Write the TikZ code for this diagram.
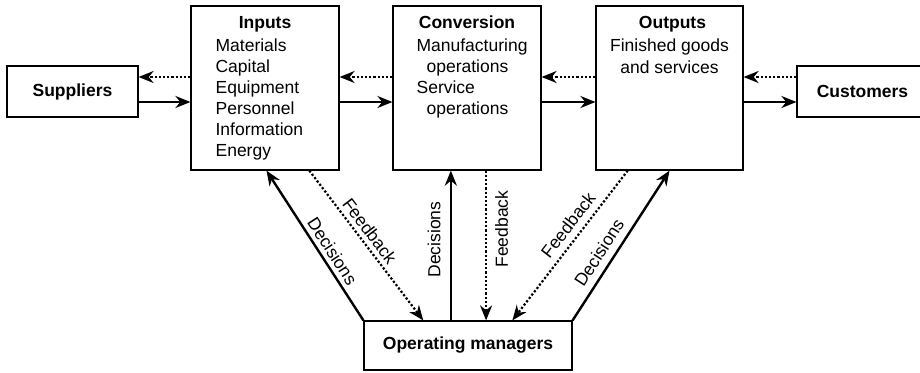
\documentclass[tikz,border=0pt]{standalone}
\usepackage{fontspec}
\setmainfont{Liberation Sans}
\usepackage{tikz}
\usetikzlibrary{arrows.meta, positioning, calc}

\newcommand{\blocksize}{\fontsize{17.5}{21}\selectfont}

\tikzset{
  box/.style={draw, line width=1.2pt, inner sep=0pt},
  boxhd/.style={box, font=\blocksize\bfseries},
  title/.style={font=\blocksize\bfseries, inner sep=0pt},
  item/.style={inner sep=0pt},
  flow/.style={line width=2.4pt, -{Stealth[length=15pt, width=12pt]}},
  fback/.style={line width=2.2pt, dotted, -{Stealth[length=15pt, width=12pt]}},
  lbl/.style={inner sep=4pt}
}

\begin{document}
\begin{tikzpicture}[x=1pt, y=-1pt, font=\blocksize]
  \useasboundingbox (0,0) rectangle (920,372);

  % boxes
  \node[boxhd, minimum width=131pt, minimum height=51pt] (sup) at (72.5,91.5) {Suppliers};
  \node[box, minimum width=148pt, minimum height=164pt] (inp) at (265,88) {};
  \node[box, minimum width=148pt, minimum height=164pt] (conv) at (467,88) {};
  \node[box, minimum width=147pt, minimum height=164pt] (out) at (669.5,88) {};
  \node[boxhd, minimum width=131pt, minimum height=51pt] (cust) at (862.5,91.5) {Customers};
  \node[boxhd, minimum width=208pt, minimum height=49pt] (om) at (468,345.5) {Operating managers};

  % box texts
  \node[title, anchor=base] (inphd) at ([yshift=-23pt]inp.north) {Inputs};
  \foreach \txt [count=\i] in {Materials, Capital, Equipment, Personnel, Information, Energy}
    \node[item, anchor=base west] (inp\i) at ([xshift=25pt, yshift={-25pt-\i*21pt}]inp.north west) {\txt};

  \node[title, anchor=base] (convhd) at ([yshift=-23pt]conv.north) {Conversion};
  \node[item, anchor=base west] (conv1) at ([xshift=24pt, yshift=-46pt]conv.north west) {Manufacturing};
  \node[item, anchor=base west] (conv2) at ([xshift=34pt, yshift=-67pt]conv.north west) {operations};
  \node[item, anchor=base west] (conv3) at ([xshift=24pt, yshift=-88pt]conv.north west) {Service};
  \node[item, anchor=base west] (conv4) at ([xshift=34pt, yshift=-109pt]conv.north west) {operations};

  \node[title, anchor=base] (outhd) at ([xshift=3pt, yshift=-23pt]out.north) {Outputs};
  \node[item, anchor=base] (out1) at ([yshift=-46pt]out.north) {Finished goods};
  \node[item, anchor=base] (out2) at ([yshift=-68pt]out.north) {and services};

  % horizontal flows
  \coordinate (fbrow) at (0,77);
  \coordinate (fwrow) at (0,102);

  \draw[fback] (inp.west |- fbrow) -- (sup.east |- fbrow);
  \draw[flow] (sup.east |- fwrow) -- (inp.west |- fwrow);
  \draw[fback] (conv.west |- fbrow) -- (inp.east |- fbrow);
  \draw[flow] (inp.east |- fwrow) -- (conv.west |- fwrow);
  \draw[fback] (out.west |- fbrow) -- (conv.east |- fbrow);
  \draw[flow] (conv.east |- fwrow) -- (out.west |- fwrow);
  \draw[fback] (cust.west |- fbrow) -- (out.east |- fbrow);
  \draw[flow] (out.east |- fwrow) -- (cust.west |- fwrow);

  % decisions and feedback
  \coordinate (dm) at ($(om.north west)!0.418!(om.north east)$);
  \coordinate (fm) at ($(conv.south west)!0.628!(conv.south east)$);

  \draw[flow] (om.north west) -- node[lbl, sloped, above, pos=0.42] (dec1) {Decisions}
    ($(inp.south west)!0.51!(inp.south east)$);
  \draw[fback] ($(inp.south west)!0.797!(inp.south east)$) -- node[lbl, sloped, above, pos=0.45] (fb1) {Feedback}
    ($(om.north west)!0.286!(om.north east)$);
  \draw[flow] (dm) -- node[lbl, sloped, above, pos=0.54, inner sep=9pt] (dec2) {Decisions} (dm |- conv.south);
  \draw[fback] (fm) -- node[lbl, rotate=90, anchor=north, pos=0.39, inner sep=8pt] (fb2) {Feedback} (fm |- om.north);
  \draw[fback] ($(out.south west)!0.218!(out.south east)$) -- node[lbl, sloped, above, pos=0.42, inner sep=6.5pt] (fb3) {Feedback}
    ($(om.north west)!0.712!(om.north east)$);
  \draw[flow] (om.north east) -- node[lbl, sloped, above, pos=0.40, inner sep=7pt] (dec3) {Decisions} (out.south);
\end{tikzpicture}
\end{document}
